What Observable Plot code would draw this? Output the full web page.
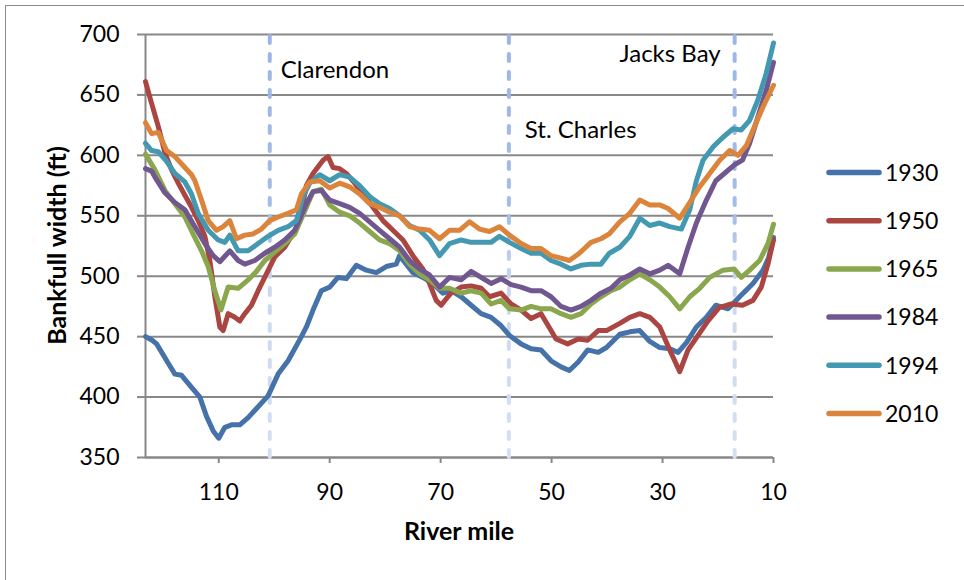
<!DOCTYPE html>
<html>
<head>
<meta charset="utf-8">
<script src="https://cdn.jsdelivr.net/npm/d3@7"></script>
<script src="https://cdn.jsdelivr.net/npm/@observablehq/plot@0.6"></script>
<style>
  html, body { margin: 0; padding: 0; background: #fff; }
  #wrap { position: relative; width: 964px; height: 580px; overflow: hidden; font-family: Lato, "Open Sans", sans-serif; }
  #frame { position: absolute; left: 5px; top: 5px; width: 1000px; height: 1000px; border-top: 1.5px solid #8a8a8a; border-left: 1.5px solid #8a8a8a; box-sizing: border-box; }
  #chart { position: absolute; left: 0; top: 0; }
  #legend { position: absolute; left: 0; top: 0; }
</style>
</head>
<body>
<div id="wrap">
  <div id="frame"></div>
  <div id="chart"></div>
  <svg id="legend" width="964" height="580"></svg>
</div>
<script>
// ---- data ----
const years = ["1930", "1950", "1965", "1984", "1994", "2010"];
const colors = ["#4672AA", "#AA4541", "#8AA74E", "#71578F", "#4399B1", "#DB843C"];

const mile1930 = [123.2,122,121.2,119.1,117.9,116.7,114.9,113.4,112.2,111,110,108.9,107.7,106.2,104.7,102.9,101.1,99.3,97.5,95.1,94.2,93,91.5,90,88.5,87,85.2,83.4,81.6,79.8,78,77.4,76.2,75,73.2,71.4,69.6,68.1,66.3,64.5,62.7,60.9,59.1,57.6,55.5,53.7,51.9,50.1,48.3,46.8,45.2,43.5,41.6,40.1,37.7,35.9,34.1,32.3,30.5,28.7,27.2,25.7,23.9,22.1,20.4,18.2,16.1,13.7,11.9,10.9,10];
const w1930 = [450,447,444,428,419,418,408,400,384,372,366,375,377,377,383,392,401,419,430,450,458,472,488,491,499,498,509,505,503,508,510,517,510,503,499,494,486,488,483,476,469,466,459,451,444,440,439,430,425,422,429,439,437,441,452,454,455,446,441,440,437,445,458,466,476,473,483,494,505,515,532];

const mile1950 = [123.2,122.1,120.9,119.7,118.5,117.3,116.1,114.9,113.7,112.5,111.6,110.7,109.8,109.2,108.3,107.1,106.2,105.3,104.1,102.9,101.4,99.9,98.1,96,94.9,94.2,93,91.2,90.3,89.4,88.2,87,85.5,84,82.2,80.4,78.6,76.8,75,73.2,72,70.8,69.9,68.7,68.1,66.3,64.5,62.7,61.2,59.1,57.3,55.5,53.7,51.9,50.1,49.2,47.1,45.2,43.5,41.6,40.1,37.7,35.9,34.1,32.3,30.5,28.7,26.9,25.4,23.6,21.8,19.8,17.6,15.6,13.7,12.2,11,10];
const w1950 = [661,643,624,602,588,577,567,557,546,533,513,483,458,455,469,466,463,469,476,488,502,516,524,540,558,575,585,596,599,590,589,585,577,568,557,546,538,530,517,506,494,480,476,483,486,491,492,490,483,486,477,472,465,469,455,448,444,448,447,455,455,461,466,469,466,458,439,421,439,451,463,474,477,476,480,491,510,530];

const mile1965 = [123.2,121.5,119.7,117.9,116.1,114.3,113.1,111.9,110.7,109.6,108.3,106.5,104.7,103.2,101.7,99.9,98.1,96.3,94.2,93,91.5,90,88.2,86.4,84.6,82.8,81,79.2,77.4,75.6,73.8,72,70.2,68.4,66.3,64.5,62.7,60.9,59.1,57.6,55.5,53.7,51.9,50.1,48.3,46.5,44.7,42.9,41.1,39.3,37.7,35.9,34.1,32.3,30.5,28.7,26.9,25.1,23.3,21.5,19.1,17.1,15.8,14.3,12.5,11,10];
const w1965 = [601,588,571,560,549,532,521,508,488,472,491,490,497,504,513,520,527,535,557,570,572,559,553,550,544,537,530,527,521,510,502,497,490,490,486,488,486,477,480,473,472,475,473,473,469,466,469,477,483,488,491,497,502,497,491,483,473,483,490,499,505,506,499,505,513,527,543];

const mile1984 = [123.2,122.1,121.5,119.7,117.9,116.1,114.3,112.5,111,109.8,108,106.5,105.3,103.5,101.7,99.9,98.1,96.3,94.2,93,91.5,90,88.2,86.4,84.6,82.8,81,79.2,77.4,75.6,73.8,72,70.2,68.4,66.3,64.5,62.7,60.9,59.1,57.3,55.5,53.7,51.9,50.1,48.3,46.5,44.7,42.9,41.1,39.3,37.7,35.9,34.1,32.3,30.5,29,26.9,25.4,23.9,22.1,20.4,18.6,17.1,15.6,14.3,12.8,11.3,10];
const w1984 = [589,587,582,569,561,555,541,527,517,512,521,513,510,513,519,524,530,538,560,570,571,563,560,557,552,545,538,531,524,513,506,501,491,499,497,504,499,494,498,493,491,488,488,483,475,472,475,480,486,490,497,501,506,502,505,509,502,524,544,563,579,586,592,596,610,632,654,677];

const mile1994 = [123.2,122.1,120.9,119.4,117.9,116.1,114.9,113.7,111.9,110.1,108.9,108,106.5,104.7,102.9,101.1,99.3,97.5,96,94.8,93.6,91.8,90,88.2,86.4,84.6,82.8,81,79.2,77.4,75.6,73.8,72,70.2,68.4,66.3,64.5,62.7,60.9,59.4,57.6,55.5,53.7,51.9,50.1,48.3,46.5,44.7,42.9,41.1,39.6,37.7,35.9,34.1,32.3,30.5,28.7,26.6,25.1,23.9,22.7,20.9,19.1,17.3,15.8,14.3,12.8,11.3,10];
const w1994 = [610,604,603,595,585,578,568,552,538,530,528,534,521,521,527,533,538,541,546,566,577,584,579,584,582,575,566,560,556,550,542,538,530,517,527,530,528,528,528,533,528,523,519,519,513,510,506,509,510,510,519,524,533,548,542,544,541,539,555,579,596,607,615,622,621,629,646,668,693];

const mile2010 = [123.2,122.1,120.9,119.4,117.9,116.1,114.9,114.3,113.1,111.9,110.4,109.2,108,106.8,105.3,103.8,102.3,100.8,99.3,97.5,96,95.1,93.6,91.8,90,88.2,86.4,84.6,82.8,81,79.2,77.4,75.6,73.8,72,70.2,68.4,66.6,64.8,63,61.2,59.4,57.6,55.5,53.7,51.9,50.1,48.3,46.8,45,42.9,41.1,39.6,37.7,35.9,34.1,32.3,30.5,29,26.9,25.1,23.3,21.5,19.7,17.9,16.4,14.9,13.4,11.9,10];
const w2010 = [627,618,619,604,599,590,584,579,563,546,538,541,546,531,534,535,539,546,549,552,555,568,578,579,573,577,574,568,560,557,553,550,541,539,538,531,538,538,545,539,537,541,534,527,523,523,517,515,513,519,528,531,535,545,552,563,559,559,556,548,561,574,585,596,604,600,608,624,640,658];

const towns = ["Clarendon", "St. Charles", "Jacks Bay"];
const townMiles = [100.8, 57.7, 17.0];

const xDomain = [123.2, 10];
const xTicks = [110, 90, 70, 50, 30, 10];
const yTicks = [350, 400, 450, 500, 550, 600, 650, 700];
const xTitle = "River mile";
const yTitle = "Bankfull width (ft)";

// ---- build table ----
const seriesMiles = [mile1930, mile1950, mile1965, mile1984, mile1994, mile2010];
const seriesWidths = [w1930, w1950, w1965, w1984, w1994, w2010];
const rows = [];
years.forEach((yr, i) => {
  seriesMiles[i].forEach((m, j) => rows.push({year: yr, mile: m, width: seriesWidths[i][j]}));
});
const townRows = towns.map((t, i) => ({town: t, mile: townMiles[i]}));

// label placement (style only)
const labelStyle = {
  "Clarendon": {dx: 11, dy: 36, anchor: "start"},
  "St. Charles": {dx: 16, dy: 96, anchor: "start"},
  "Jacks Bay": {dx: -14, dy: 20, anchor: "end"}
};

const gray = "#888888";
const font = "Lato, 'Open Sans', sans-serif";
const yMax = d3.max(yTicks), yMin = d3.min(yTicks);

const chart = Plot.plot({
  width: 964,
  height: 580,
  marginLeft: 145,
  marginRight: 191,
  marginTop: 34,
  marginBottom: 123,
  style: {fontFamily: font, fontSize: "23px", color: "#000", background: "transparent"},
  x: {domain: xDomain, label: null},
  y: {domain: [yMin, yMax], label: null},
  color: {domain: years, range: colors},
  marks: [
    Plot.gridY(yTicks, {stroke: gray, strokeOpacity: 1, strokeWidth: 2}),
    Plot.axisY(yTicks, {tickSize: 8, tickPadding: 18, stroke: gray, strokeWidth: 2, fontSize: 23, label: null}),
    Plot.axisX(xTicks, {tickSize: 6, tickPadding: 20, stroke: gray, strokeWidth: 2, fontSize: 23, label: null}),
    Plot.ruleX([xDomain[0]], {stroke: gray, strokeWidth: 2}),
    Plot.ruleY([yMin], {stroke: gray, strokeWidth: 2}),
    Plot.ruleX(townRows, {x: "mile", y1: yMin, y2: yMax, stroke: "url(#dashGrad)", strokeWidth: 4, strokeDasharray: "7,11", strokeLinecap: "round"}),
    Plot.line(rows, {x: "mile", y: "width", z: "year", stroke: "year", strokeWidth: 5, strokeLinejoin: "round", strokeLinecap: "round"}),
    ...towns.map(t => Plot.text([townRows.find(d => d.town === t)], {
      x: "mile", y: () => yMax, text: "town",
      dx: labelStyle[t].dx, dy: labelStyle[t].dy, textAnchor: labelStyle[t].anchor,
      fontSize: 24, fill: "#000"
    }))
  ]
});
document.getElementById("chart").appendChild(chart);

// gradient for the dashed town lines
const yScale = chart.scale("y");
const xScale = chart.scale("x");
const svg = d3.select(chart);
const defs = svg.insert("defs", ":first-child");
const grad = defs.append("linearGradient")
  .attr("id", "dashGrad")
  .attr("gradientUnits", "userSpaceOnUse")
  .attr("x1", 0).attr("x2", 0)
  .attr("y1", yScale.apply(yMax)).attr("y2", yScale.apply(yMin));
grad.append("stop").attr("offset", "0").attr("stop-color", "#9AB6E6");
grad.append("stop").attr("offset", "0.42").attr("stop-color", "#A3BDE8");
grad.append("stop").attr("offset", "0.6").attr("stop-color", "#CAD8EF");
grad.append("stop").attr("offset", "1").attr("stop-color", "#D4E0F2");

// axis titles and legend
const leg = d3.select("#legend");
const plotTop = yScale.apply(yMax), plotBottom = yScale.apply(yMin);
const plotLeft = xScale.apply(xDomain[0]), plotRight = xScale.apply(xDomain[1]);
leg.append("text")
  .attr("transform", `translate(66,${(plotTop + plotBottom) / 2}) rotate(-90)`)
  .attr("text-anchor", "middle").attr("font-family", font).attr("font-weight", "bold")
  .attr("font-size", 25).attr("fill", "#000").text(yTitle);
leg.append("text")
  .attr("x", (plotLeft + plotRight) / 2).attr("y", plotBottom + 83)
  .attr("text-anchor", "middle").attr("font-family", font).attr("font-weight", "bold")
  .attr("font-size", 25).attr("fill", "#000").text(xTitle);

const legTop = 172.5, legStep = 48.2;
years.forEach((yr, i) => {
  const cy = legTop + i * legStep;
  leg.append("line").attr("x1", 829).attr("x2", 879).attr("y1", cy).attr("y2", cy)
    .attr("stroke", colors[i]).attr("stroke-width", 5.5).attr("stroke-linecap", "round");
  leg.append("text").attr("x", 885).attr("y", cy).attr("dy", "0.36em")
    .attr("font-family", font).attr("font-size", 23).attr("fill", "#000").text(yr);
});
</script>
</body>
</html>
